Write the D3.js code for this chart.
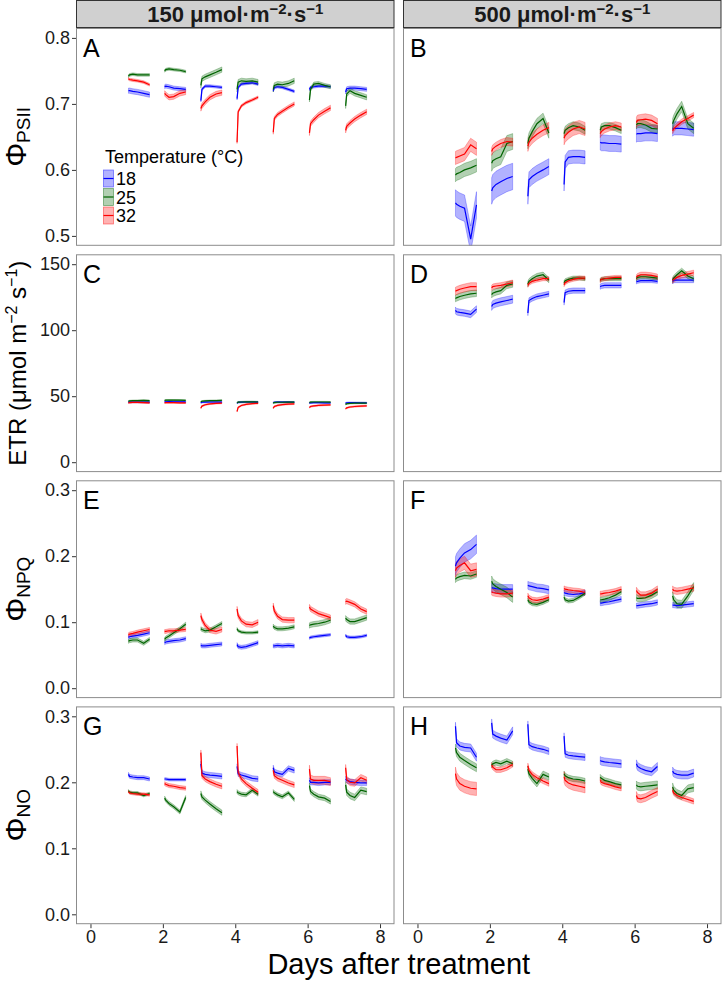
<!DOCTYPE html>
<html>
<head>
<meta charset="utf-8">
<script src="https://cdn.jsdelivr.net/npm/d3@7"></script>
<style>
  body { margin: 0; background: #ffffff; }
  text { font-family: "Liberation Sans", Arial, sans-serif; }
</style>
</head>
<body>
<div id="container"></div>
<script>
var days = [1, 2, 3, 4, 5, 6, 7]
var readingTimes = [0.05, 0.08, 0.17, 0.3, 0.47, 0.63]
var temps = ['18', '25', '32']
var lightLevels = ['150', '500']
var xTicks = [0, 2, 4, 6, 8]
var psiiTicks = [0.5, 0.6, 0.7, 0.8]
var etrTicks = [0, 50, 100, 150]
var npqTicks = [0.0, 0.1, 0.2, 0.3]
var noTicks = [0.0, 0.1, 0.2, 0.3]

// A: PhiPSII at 150
var psii150_18 = [[0.720,0.720,0.719,0.718,0.716,0.714],[0.726,0.727,0.726,0.724,0.723,0.722],[0.705,0.722,0.727,0.727,0.726,0.725],[0.708,0.725,0.730,0.731,0.732,0.730],[0.720,0.725,0.726,0.725,0.722,0.719],[0.722,0.725,0.726,0.727,0.727,0.726],[0.718,0.723,0.724,0.724,0.723,0.722]]
var psii150_25 = [[0.742,0.744,0.745,0.744,0.744,0.744],[0.750,0.752,0.753,0.752,0.751,0.749],[0.728,0.738,0.741,0.744,0.748,0.752],[0.722,0.733,0.735,0.734,0.735,0.733],[0.722,0.728,0.730,0.729,0.731,0.735],[0.706,0.722,0.730,0.731,0.728,0.726],[0.697,0.715,0.720,0.716,0.713,0.710]]
var psii150_32 = [[0.738,0.737,0.736,0.735,0.733,0.729],[0.716,0.714,0.710,0.711,0.716,0.718],[0.693,0.697,0.703,0.710,0.715,0.717],[0.642,0.688,0.697,0.702,0.706,0.710],[0.657,0.678,0.684,0.689,0.695,0.700],[0.656,0.670,0.676,0.683,0.689,0.694],[0.660,0.666,0.671,0.677,0.683,0.688]]
var psii150_18_se = [0.004,0.003,0.002,0.002,0.002,0.002,0.003]
var psii150_25_se = [0.002,0.002,0.004,0.004,0.004,0.003,0.004]
var psii150_32_se = [0.002,0.004,0.004,0.002,0.003,0.004,0.004]

// B: PhiPSII at 500
var psii500_18 = [[0.550,0.548,0.545,0.542,0.495,0.547],[0.568,0.573,0.578,0.582,0.587,0.590],[0.560,0.585,0.590,0.595,0.600,0.605],[0.578,0.612,0.619,0.620,0.620,0.619],[0.642,0.641,0.641,0.640,0.640,0.639],[0.654,0.655,0.655,0.656,0.656,0.655],[0.661,0.663,0.663,0.663,0.662,0.661]]
var psii500_25 = [[0.592,0.594,0.596,0.600,0.603,0.607],[0.610,0.614,0.617,0.620,0.640,0.643],[0.640,0.648,0.658,0.670,0.678,0.656],[0.655,0.660,0.664,0.667,0.665,0.660],[0.660,0.665,0.667,0.667,0.664,0.660],[0.668,0.670,0.670,0.668,0.663,0.662],[0.670,0.675,0.685,0.696,0.670,0.663]]
var psii500_32 = [[0.618,0.619,0.621,0.624,0.638,0.632],[0.628,0.632,0.636,0.640,0.643,0.642],[0.636,0.642,0.648,0.654,0.660,0.664],[0.648,0.652,0.657,0.662,0.665,0.662],[0.655,0.658,0.662,0.665,0.667,0.665],[0.672,0.675,0.676,0.677,0.675,0.670],[0.659,0.662,0.667,0.673,0.678,0.683]]
var psii500_18_se = [0.020,0.020,0.012,0.010,0.012,0.012,0.010]
var psii500_25_se = [0.010,0.012,0.008,0.006,0.005,0.006,0.008]
var psii500_32_se = [0.010,0.006,0.008,0.010,0.006,0.008,0.004]

// C: ETR at 150
var etr150_18 = [[45.5,45.5,45.6,45.6,45.5,45.5],[45.8,45.8,45.9,45.8,45.8,45.7],[45.0,45.4,45.5,45.6,45.6,45.5],[44.8,45.3,45.5,45.6,45.6,45.5],[45.2,45.4,45.5,45.5,45.5,45.4],[44.8,45.0,45.1,45.1,45.0,45.0],[44.8,45.0,45.1,45.1,45.0,44.9]]
var etr150_25 = [[46.2,46.4,46.6,46.7,46.8,46.6],[46.8,47.0,47.1,47.1,47.0,46.9],[45.8,46.2,46.4,46.6,46.7,46.8],[45.0,45.5,45.6,45.7,45.7,45.6],[44.8,45.2,45.4,45.4,45.5,45.5],[45.2,45.5,45.6,45.6,45.6,45.5],[43.8,44.3,44.6,44.7,44.8,44.8]]
var etr150_32 = [[45.0,45.2,45.3,45.3,45.2,45.0],[45.0,45.1,45.1,45.1,45.0,45.0],[41.0,42.5,43.5,44.2,44.6,44.8],[38.5,41.5,43.0,43.8,44.4,44.6],[41.0,42.2,43.0,43.6,44.0,44.2],[41.5,42.2,42.6,43.0,43.3,43.4],[40.5,41.2,41.8,42.2,42.5,42.7]]
var etr150_18_se = [0.6,0.5,0.5,0.5,0.5,0.5,0.5]
var etr150_25_se = [0.5,0.4,0.5,0.5,0.5,0.5,0.5]
var etr150_32_se = [0.5,0.5,0.5,0.5,0.5,0.5,0.5]

// D: ETR at 500
var etr500_18 = [[115,114,113.5,113,112,116],[118,119.5,120.5,121.5,122.5,123.5],[113,122.5,124,125.5,126.5,127.5],[121,128.5,129.5,130,130,130],[133,133.5,134,134,134,134],[136.5,137,137.5,137.5,137.5,137],[137,138,138,138,138,138]]
var etr500_25 = [[124,124.5,125.5,126.5,127.5,128],[127,128,129,130,134,135],[135,137,139,141,142,138],[136,137.5,138.5,139.5,139.5,139],[138,138.5,139,139,139,139],[139,140,140.5,140.5,140,139.5],[138,139.5,142,145,141,139]]
var etr500_32 = [[129.5,130,131,132,133,133],[132,133,133.5,134,135,136],[134,135.5,137,138,139,139],[134.5,136,137.5,138.5,139.5,139.5],[137.5,138.5,139,139.5,140,140],[140,141,142,142,141.5,140.5],[137.5,138.5,140,141.5,142.5,143.5]]
var etr500_18_se = [2.5,3,2,2,2,1.5,2]
var etr500_25_se = [2.5,2.5,2,1.5,1.5,1.5,2]
var etr500_32_se = [3,2,1.5,1.5,1.5,2,2]

// E: PhiNPQ at 150
var npq150_18 = [[0.077,0.078,0.079,0.080,0.082,0.084],[0.069,0.070,0.071,0.072,0.073,0.075],[0.065,0.064,0.064,0.065,0.066,0.067],[0.066,0.063,0.062,0.063,0.066,0.069],[0.064,0.064,0.065,0.064,0.065,0.064],[0.076,0.077,0.078,0.079,0.080,0.081],[0.080,0.078,0.077,0.077,0.078,0.080]]
var npq150_25 = [[0.071,0.072,0.073,0.073,0.068,0.074],[0.074,0.076,0.079,0.084,0.090,0.097],[0.090,0.089,0.087,0.088,0.093,0.098],[0.090,0.087,0.085,0.084,0.084,0.085],[0.094,0.092,0.090,0.090,0.091,0.093],[0.095,0.096,0.097,0.098,0.100,0.103],[0.106,0.104,0.101,0.101,0.104,0.107]]
var npq150_32 = [[0.081,0.082,0.083,0.085,0.087,0.089],[0.086,0.086,0.087,0.087,0.088,0.089],[0.110,0.104,0.095,0.088,0.086,0.089],[0.120,0.110,0.102,0.097,0.096,0.100],[0.125,0.117,0.109,0.104,0.103,0.103],[0.123,0.120,0.117,0.113,0.110,0.107],[0.131,0.132,0.130,0.127,0.120,0.116]]
var npq150_18_se = [0.003,0.003,0.003,0.003,0.003,0.002,0.002]
var npq150_25_se = [0.003,0.003,0.003,0.002,0.003,0.004,0.004]
var npq150_32_se = [0.003,0.003,0.004,0.004,0.004,0.004,0.004]

// F: PhiNPQ at 500
var npq500_18 = [[0.185,0.190,0.197,0.205,0.210,0.218],[0.152,0.152,0.151,0.150,0.150,0.150],[0.156,0.155,0.154,0.152,0.151,0.149],[0.145,0.144,0.143,0.142,0.143,0.145],[0.129,0.129,0.130,0.131,0.133,0.135],[0.125,0.125,0.126,0.127,0.128,0.130],[0.126,0.126,0.125,0.126,0.127,0.128]]
var npq500_25 = [[0.165,0.167,0.169,0.171,0.170,0.173],[0.162,0.158,0.154,0.150,0.145,0.138],[0.134,0.131,0.128,0.127,0.130,0.134],[0.138,0.134,0.132,0.133,0.138,0.144],[0.134,0.134,0.135,0.137,0.141,0.146],[0.137,0.136,0.136,0.137,0.141,0.146],[0.140,0.134,0.128,0.127,0.140,0.154]]
var npq500_32 = [[0.178,0.182,0.186,0.190,0.178,0.180],[0.146,0.145,0.144,0.143,0.143,0.144],[0.140,0.137,0.134,0.133,0.135,0.138],[0.151,0.150,0.149,0.148,0.147,0.145],[0.143,0.143,0.144,0.145,0.147,0.150],[0.148,0.145,0.141,0.141,0.144,0.150],[0.150,0.148,0.147,0.148,0.150,0.152]]
var npq500_18_se = [0.014,0.007,0.006,0.004,0.004,0.004,0.004]
var npq500_25_se = [0.005,0.008,0.003,0.003,0.004,0.005,0.006]
var npq500_32_se = [0.010,0.005,0.004,0.004,0.004,0.005,0.005]

// G: PhiNO at 150
var no150_18 = [[0.212,0.209,0.208,0.207,0.207,0.205],[0.205,0.205,0.204,0.204,0.204,0.204],[0.228,0.214,0.212,0.211,0.210,0.209],[0.224,0.213,0.211,0.209,0.206,0.205],[0.222,0.216,0.214,0.212,0.221,0.218],[0.203,0.200,0.200,0.199,0.200,0.200],[0.205,0.203,0.201,0.200,0.199,0.199]]
var no150_25 = [[0.187,0.185,0.184,0.184,0.180,0.183],[0.176,0.173,0.168,0.163,0.155,0.177],[0.183,0.178,0.173,0.167,0.160,0.154],[0.186,0.184,0.182,0.181,0.188,0.182],[0.186,0.184,0.181,0.178,0.184,0.174],[0.195,0.186,0.182,0.178,0.176,0.171],[0.196,0.185,0.180,0.177,0.188,0.186]]
var no150_32 = [[0.186,0.184,0.183,0.182,0.182,0.181],[0.198,0.197,0.195,0.194,0.192,0.191],[0.245,0.210,0.205,0.201,0.197,0.194],[0.255,0.215,0.205,0.198,0.191,0.185],[0.218,0.210,0.206,0.203,0.199,0.196],[0.220,0.205,0.203,0.203,0.203,0.201],[0.222,0.204,0.200,0.199,0.207,0.203]]
var no150_18_se = [0.003,0.002,0.004,0.004,0.004,0.004,0.004]
var no150_25_se = [0.002,0.003,0.004,0.003,0.003,0.004,0.005]
var no150_32_se = [0.002,0.003,0.004,0.004,0.004,0.006,0.005]

// H: PhiNO at 500
var no500_18 = [[0.285,0.260,0.255,0.253,0.252,0.238],[0.290,0.273,0.270,0.267,0.264,0.278],[0.288,0.257,0.254,0.252,0.250,0.247],[0.270,0.243,0.241,0.240,0.239,0.238],[0.233,0.232,0.231,0.230,0.229,0.228],[0.228,0.224,0.221,0.218,0.216,0.224],[0.217,0.214,0.212,0.211,0.211,0.214]]
var no500_25 = [[0.252,0.245,0.238,0.233,0.227,0.222],[0.226,0.228,0.230,0.228,0.232,0.228],[0.220,0.213,0.206,0.198,0.212,0.208],[0.213,0.210,0.207,0.205,0.204,0.202],[0.208,0.206,0.203,0.201,0.198,0.196],[0.196,0.194,0.193,0.194,0.195,0.196],[0.193,0.188,0.183,0.180,0.190,0.192]]
var no500_32 = [[0.213,0.205,0.198,0.194,0.191,0.190],[0.226,0.223,0.219,0.219,0.222,0.227],[0.225,0.218,0.212,0.207,0.202,0.198],[0.208,0.203,0.199,0.196,0.194,0.192],[0.203,0.200,0.198,0.196,0.193,0.191],[0.180,0.176,0.175,0.177,0.182,0.186],[0.188,0.184,0.180,0.177,0.174,0.171]]
var no500_18_se = [0.006,0.006,0.005,0.005,0.006,0.006,0.006]
var no500_25_se = [0.006,0.004,0.005,0.004,0.004,0.006,0.006]
var no500_32_se = [0.010,0.004,0.004,0.008,0.004,0.006,0.004]

var colors = ['#0000ff', '#006400', '#ff0000']

var rows = [
    { ticks: psiiTicks, format: d3.format('.1f'), sym: 'PSII' },
    { ticks: etrTicks, format: d3.format('d'), sym: null },
    { ticks: npqTicks, format: d3.format('.1f'), sym: 'NPQ' },
    { ticks: noTicks, format: d3.format('.1f'), sym: 'NO' }
]

var panels = [
    { letter: 'A', row: 0, col: 0, means: [psii150_18, psii150_25, psii150_32], se: [psii150_18_se, psii150_25_se, psii150_32_se] },
    { letter: 'B', row: 0, col: 1, means: [psii500_18, psii500_25, psii500_32], se: [psii500_18_se, psii500_25_se, psii500_32_se] },
    { letter: 'C', row: 1, col: 0, means: [etr150_18, etr150_25, etr150_32], se: [etr150_18_se, etr150_25_se, etr150_32_se] },
    { letter: 'D', row: 1, col: 1, means: [etr500_18, etr500_25, etr500_32], se: [etr500_18_se, etr500_25_se, etr500_32_se] },
    { letter: 'E', row: 2, col: 0, means: [npq150_18, npq150_25, npq150_32], se: [npq150_18_se, npq150_25_se, npq150_32_se] },
    { letter: 'F', row: 2, col: 1, means: [npq500_18, npq500_25, npq500_32], se: [npq500_18_se, npq500_25_se, npq500_32_se] },
    { letter: 'G', row: 3, col: 0, means: [no150_18, no150_25, no150_32], se: [no150_18_se, no150_25_se, no150_32_se] },
    { letter: 'H', row: 3, col: 1, means: [no500_18, no500_25, no500_32], se: [no500_18_se, no500_25_se, no500_32_se] }
]

var width = 722
var height = 981
var colLeft = [76, 403]
var panelW = 318.5
var rowTop = [28, 254.3, 480.3, 706.4]
var panelH = 217.8

var svg = d3.select('#container').append('svg')
    .attr('width', width)
    .attr('height', height)

function expand(ticks){
    var lo = d3.min(ticks), hi = d3.max(ticks)
    var pad = (hi - lo) * 0.05
    return [lo - pad, hi + pad]
}

function segmentPoints(series, se, i){
    return readingTimes.map(function(t, j){
        return { t: days[i] + t, v: series[i][j], se: se[i] }
    })
}

// strips
lightLevels.forEach(function(level, c){
    svg.append('rect')
        .attr('x', colLeft[c] + 0.5)
        .attr('y', 0.5)
        .attr('width', panelW - 1)
        .attr('height', 27)
        .attr('fill', '#d0d0d0')
        .attr('stroke', '#333333')
        .attr('stroke-width', 1)
    var st = svg.append('text')
        .attr('x', colLeft[c] + panelW / 2)
        .attr('y', 22)
        .attr('text-anchor', 'middle')
        .attr('font-size', 22)
        .attr('font-weight', 'bold')
        .attr('fill', '#1a1a1a')
    st.append('tspan').text(level + ' μmol·m')
    st.append('tspan').attr('font-size', 15).attr('dy', -8).text('−2')
    st.append('tspan').attr('dy', 8).text('·s')
    st.append('tspan').attr('font-size', 15).attr('dy', -8).text('−1')
})

var x = [0, 1].map(function(c){
    return d3.scaleLinear().domain([-0.4, 8.4]).range([colLeft[c], colLeft[c] + panelW])
})
var y = rows.map(function(r, i){
    return d3.scaleLinear().domain(expand(r.ticks)).range([rowTop[i] + panelH, rowTop[i]])
})

panels.forEach(function(p, pi){
    var xs = x[p.col]
    var ys = y[p.row]
    var left = colLeft[p.col]
    var top = rowTop[p.row]

    svg.append('clipPath').attr('id', 'clip' + pi)
        .append('rect')
        .attr('x', left).attr('y', top)
        .attr('width', panelW).attr('height', panelH)

    var g = svg.append('g').attr('clip-path', 'url(#clip' + pi + ')')

    var area = d3.area()
        .x(function(d){ return xs(d.t) })
        .y0(function(d){ return ys(d.v - d.se) })
        .y1(function(d){ return ys(d.v + d.se) })
    var line = d3.line()
        .x(function(d){ return xs(d.t) })
        .y(function(d){ return ys(d.v) })

    // ribbons first, then mean lines on top
    p.means.forEach(function(series, k){
        days.forEach(function(day, i){
            g.append('path')
                .attr('d', area(segmentPoints(series, p.se[k], i)))
                .attr('fill', colors[k])
                .attr('fill-opacity', 0.3)
                .attr('stroke', colors[k])
                .attr('stroke-opacity', 0.45)
                .attr('stroke-width', 0.6)
        })
    })
    p.means.forEach(function(series, k){
        days.forEach(function(day, i){
            g.append('path')
                .attr('d', line(segmentPoints(series, p.se[k], i)))
                .attr('fill', 'none')
                .attr('stroke', colors[k])
                .attr('stroke-width', 1.2)
        })
    })

    svg.append('rect')
        .attr('x', left + 0.5).attr('y', top + 0.5)
        .attr('width', panelW - 1).attr('height', panelH - 1)
        .attr('fill', 'none')
        .attr('stroke', '#8c8c8c')
        .attr('stroke-width', 1)

    svg.append('text')
        .attr('x', left + 7)
        .attr('y', top + 29)
        .attr('font-size', 25)
        .attr('fill', '#000')
        .text(p.letter)

    if(p.col === 0){
        var yAxis = svg.append('g')
            .attr('transform', 'translate(' + left + ',0)')
            .call(d3.axisLeft(ys).tickValues(rows[p.row].ticks).tickFormat(rows[p.row].format).tickSize(4).tickPadding(2))
        yAxis.select('.domain').remove()
        yAxis.selectAll('line').attr('stroke', '#333')
        yAxis.selectAll('text').attr('font-size', 18).attr('fill', '#1a1a1a')
            .style('font-family', '"Liberation Sans", Arial, sans-serif')
    }
    if(p.row === 3){
        var xAxis = svg.append('g')
            .attr('transform', 'translate(0,' + (top + panelH) + ')')
            .call(d3.axisBottom(xs).tickValues(xTicks).tickSize(4).tickPadding(2))
        xAxis.select('.domain').remove()
        xAxis.selectAll('line').attr('stroke', '#333')
        xAxis.selectAll('text').attr('font-size', 18).attr('fill', '#1a1a1a')
            .style('font-family', '"Liberation Sans", Arial, sans-serif')
    }
})

// y-axis titles
rows.forEach(function(r, i){
    var cy = rowTop[i] + panelH / 2
    var t = svg.append('text')
        .attr('transform', 'translate(' + 26 + ',' + cy + ') rotate(-90)')
        .attr('text-anchor', 'middle')
        .attr('fill', '#000')
    if(r.sym){
        t.append('tspan').attr('font-size', 30).text('Φ')
        t.append('tspan').attr('font-size', 19).attr('dy', 4).text(r.sym)
    } else {
        t.attr('font-size', 24)
        t.append('tspan').text('ETR (μmol m')
        t.append('tspan').attr('font-size', 16).attr('dy', -9).text('−2')
        t.append('tspan').attr('dy', 9).text(' s')
        t.append('tspan').attr('font-size', 16).attr('dy', -9).text('−1')
        t.append('tspan').attr('dy', 9).text(')')
    }
})

svg.append('text')
    .attr('x', (colLeft[0] + colLeft[1] + panelW) / 2)
    .attr('y', 974)
    .attr('text-anchor', 'middle')
    .attr('font-size', 29)
    .attr('fill', '#000')
    .text('Days after treatment')

// legend inside panel A
var legend = svg.append('g').attr('transform', 'translate(103,150)')
legend.append('text')
    .attr('x', 2).attr('y', 13)
    .attr('font-size', 18)
    .attr('fill', '#000')
    .text('Temperature (°C)')
temps.forEach(function(tp, k){
    var ky = 20 + k * 18.5
    legend.append('rect')
        .attr('x', 0.5).attr('y', ky)
        .attr('width', 10).attr('height', 17)
        .attr('fill', colors[k]).attr('fill-opacity', 0.3)
        .attr('stroke', colors[k]).attr('stroke-opacity', 0.5).attr('stroke-width', 0.8)
    legend.append('line')
        .attr('x1', 0.5).attr('x2', 10.5)
        .attr('y1', ky + 8.5).attr('y2', ky + 8.5)
        .attr('stroke', colors[k]).attr('stroke-width', 1.2)
    legend.append('text')
        .attr('x', 13).attr('y', ky + 15)
        .attr('font-size', 18)
        .attr('fill', '#000')
        .text(tp)
})
</script>
</body>
</html>
